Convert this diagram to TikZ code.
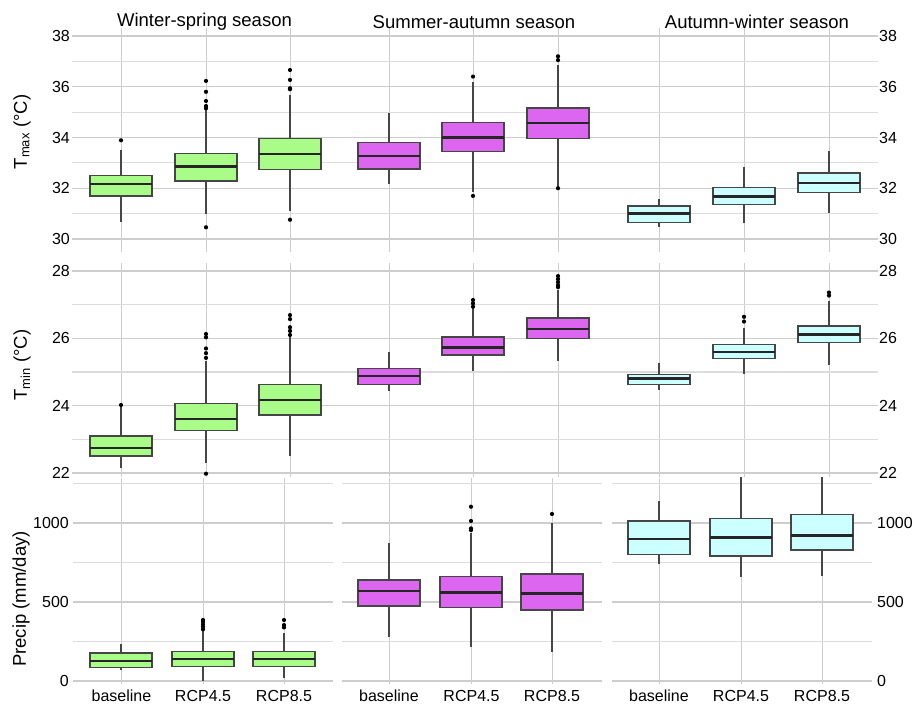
\documentclass[tikz,border=0pt]{standalone}
\usepackage{fontspec}
\setmainfont{Liberation Sans}
\definecolor{wsgreen}{RGB}{170,252,136}
\definecolor{samag}{RGB}{221,102,240}
\definecolor{awcyan}{RGB}{204,255,255}
\definecolor{gridgray}{RGB}{205,205,205}
\definecolor{minorgray}{RGB}{220,220,220}
\definecolor{boxline}{RGB}{70,70,70}

% box: x, whisker low, q1, median, q3, whisker high, fill
\newcommand{\bplot}[7]{
	\draw [whisk] (#1,#2) -- (#1,#3) (#1,#5) -- (#1,#6);
	\draw [boxx, fill=#7] (#1-31,#3) rectangle (#1+31,#5);
	\draw [med] (#1-31,#4) -- (#1+31,#4);
}
\newcommand{\outl}[2]{\foreach \v in {#2} \fill (#1,\v) circle (2.1pt);}

\begin{document}
\begin{tikzpicture}[x=1pt, y=-1pt]
	\tikzstyle{boxx}=[draw=boxline, line width=1.4pt]
	\tikzstyle{whisk}=[boxline, line width=1.6pt]
	\tikzstyle{med}=[black!85, line width=2.4pt]
	\tikzstyle{major}=[gridgray, line width=1.2pt]
	\tikzstyle{minor}=[minorgray, line width=1.1pt]
	\tikzstyle{vgrid}=[gridgray, line width=1pt]
	\tikzstyle{tick}=[inner sep=1pt, font=\fontsize{16}{18}\selectfont]
	\tikzstyle{title}=[font=\fontsize{18.5}{21}\selectfont]
	\useasboundingbox (0,0) rectangle (914,704);
	\fill [white] (0,0) rectangle (914,704);

	% vertical grid
	\foreach \x in {121,206,290,389,473,558,659,744,829} {
		\draw [vgrid] (\x,28) -- (\x,252);
		\draw [vgrid] (\x,263) -- (\x,477);
	}
	\foreach \x in {121,203,284,389,471,552,659,741,822}
		\draw [vgrid] (\x,478) -- (\x,684);

	% season titles
	\draw node [title] at (204.5, 22) (twinter) {Winter-spring season};
	\draw node [title] at (474, 22) (tsummer) {Summer-autumn season};
	\draw node [title] at (757, 22) (tautumn) {Autumn-winter season};

	% axis titles
	\draw node [title, rotate=90] at (22, 132) (ylmax) {T\textsubscript{max} (°C)};
	\draw node [title, rotate=90] at (22, 365) (ylmin) {T\textsubscript{min} (°C)};
	\draw node [title, rotate=90] at (21, 599) (ylprec) {Precip (mm/day)};

	% Tmax row
	\begin{scope}[y=25.375pt, yshift=-1000.25pt]
		\foreach \v in {31,33,35,37} \draw [minor] (72,\v) -- (878,\v);
		\foreach \v in {30,32,...,38} {
			\draw [major] (72,\v) -- (878,\v);
			\draw node [tick, anchor=east] at (71,\v) (lmax\v) {\v};
			\draw node [tick, anchor=west] at (878,\v) (rmax\v) {\v};
		}
		\bplot{121}{30.68}{31.7}{32.16}{32.5}{33.5}{wsgreen}
		\outl{121}{33.89}
		\bplot{206}{31.0}{32.29}{32.85}{33.38}{35.1}{wsgreen}
		\outl{206}{36.23,35.8,35.44,35.24,35.15,30.46}
		\bplot{290}{31.1}{32.75}{33.35}{33.95}{35.68}{wsgreen}
		\outl{290}{36.66,36.27,35.94,35.9,30.76}
		\bplot{389}{32.16}{32.76}{33.26}{33.81}{34.98}{samag}
		\bplot{473}{31.85}{33.44}{34.0}{34.6}{36.2}{samag}
		\outl{473}{36.4,31.7}
		\bplot{558}{32.06}{33.97}{34.57}{35.17}{36.86}{samag}
		\outl{558}{37.2,37.05,32.0}
		\bplot{659}{30.48}{30.64}{31.0}{31.3}{31.58}{awcyan}
		\bplot{744}{30.62}{31.35}{31.68}{32.02}{32.85}{awcyan}
		\bplot{829}{31.01}{31.84}{32.2}{32.6}{33.47}{awcyan}
	\end{scope}

	% Tmin row
	\begin{scope}[y=33.67pt, yshift=-1213.76pt]
		\foreach \v in {23,25,27} \draw [minor] (72,\v) -- (878,\v);
		\foreach \v in {22,24,...,28} {
			\draw [major] (72,\v) -- (878,\v);
			\draw node [tick, anchor=east] at (71,\v) (lmin\v) {\v};
			\draw node [tick, anchor=west] at (878,\v) (rmin\v) {\v};
		}
		\bplot{121}{22.14}{22.51}{22.75}{23.1}{23.95}{wsgreen}
		\outl{121}{24.02}
		\bplot{206}{22.29}{23.26}{23.6}{24.06}{25.34}{wsgreen}
		\outl{206}{26.13,26.03,25.7,25.56,25.42,21.98}
		\bplot{290}{22.51}{23.72}{24.17}{24.63}{26.03}{wsgreen}
		\outl{290}{26.69,26.57,26.33,26.22,26.1}
		\bplot{389}{24.44}{24.63}{24.88}{25.11}{25.58}{samag}
		\bplot{473}{25.03}{25.5}{25.73}{26.04}{26.89}{samag}
		\outl{473}{27.14,27.04,26.94}
		\bplot{558}{25.34}{25.99}{26.28}{26.6}{27.44}{samag}
		\outl{558}{27.85,27.76,27.67,27.58,27.52}
		\bplot{659}{24.46}{24.63}{24.81}{24.92}{25.26}{awcyan}
		\bplot{744}{24.94}{25.4}{25.6}{25.82}{26.3}{awcyan}
		\outl{744}{26.64,26.5}
		\bplot{829}{25.21}{25.88}{26.12}{26.37}{27.12}{awcyan}
		\outl{829}{27.36,27.27}
	\end{scope}

	% Precip row
	\begin{scope}[y=0.158pt, yshift=-681pt]
		\foreach \v in {250,750,1250} {
			\draw [minor] (73,\v) -- (333,\v);
			\draw [minor] (342,\v) -- (602,\v);
			\draw [minor] (612,\v) -- (872,\v);
		}
		\foreach \v in {0,500,1000} {
			\draw [major] (73,\v) -- (333,\v);
			\draw [major] (342,\v) -- (602,\v);
			\draw [major] (612,\v) -- (872,\v);
			\draw node [tick, anchor=east] at (70,\v) (lpr\v) {\v};
			\draw node [tick, anchor=west] at (876,\v) (rpr\v) {\v};
		}
		\bplot{121}{70}{87}{127}{177}{232}{wsgreen}
		\bplot{203}{2}{91}{139}{185}{323}{wsgreen}
		\outl{203}{386,375,360,344,327}
		\bplot{284}{17}{91}{139}{185}{301}{wsgreen}
		\outl{284}{386,354,339}
		\bplot{389}{280}{475}{568}{639}{871}{samag}
		\bplot{471}{217}{464}{559}{660}{939}{samag}
		\outl{471}{1103,1013,966,955}
		\bplot{552}{186}{449}{553}{677}{1002}{samag}
		\outl{552}{1057}
		\bplot{659}{739}{802}{897}{1013}{1141}{awcyan}
		\bplot{741}{660}{791}{908}{1030}{1290}{awcyan}
		\bplot{822}{665}{829}{920}{1055}{1290}{awcyan}
	\end{scope}

	% scenario labels
	\draw node [tick] at (121.5, 696) (xba) {baseline};
	\draw node [tick] at (203, 696) (xra) {RCP4.5};
	\draw node [tick] at (284, 696) (xsa) {RCP8.5};
	\draw node [tick] at (389, 696) (xbb) {baseline};
	\draw node [tick] at (471.5, 696) (xrb) {RCP4.5};
	\draw node [tick] at (552, 696) (xsb) {RCP8.5};
	\draw node [tick] at (659, 696) (xbc) {baseline};
	\draw node [tick] at (741, 696) (xrc) {RCP4.5};
	\draw node [tick] at (822, 696) (xsc) {RCP8.5};
\end{tikzpicture}
\end{document}
